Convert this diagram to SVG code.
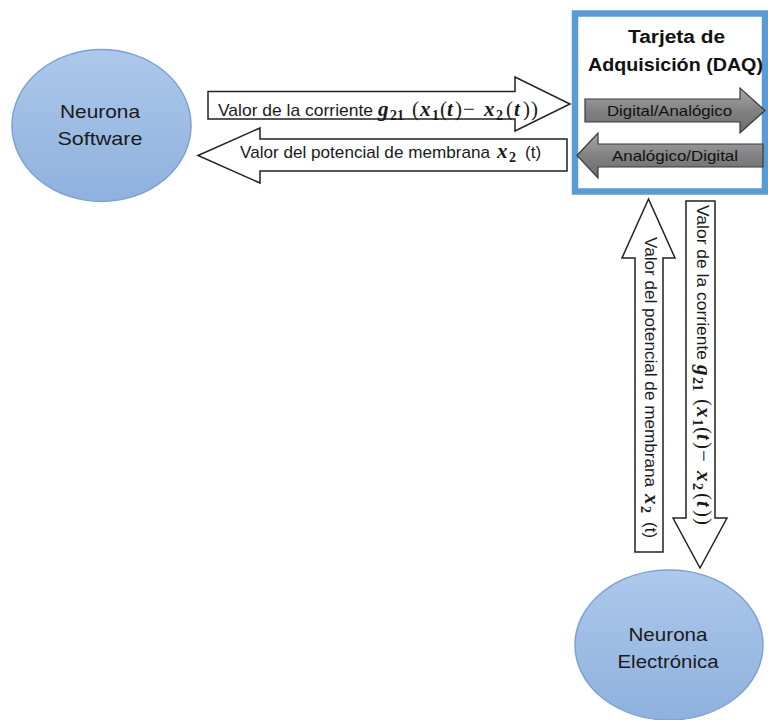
<svg xmlns="http://www.w3.org/2000/svg" width="768" height="720" viewBox="0 0 768 720">
<defs>
<linearGradient id="gBlue" x1="0" y1="0" x2="0" y2="1">
<stop offset="0" stop-color="#adc8ea"/>
<stop offset="1" stop-color="#8fb1de"/>
</linearGradient>
<linearGradient id="gGray" x1="0" y1="0" x2="0" y2="1">
<stop offset="0" stop-color="#a8a8a8"/>
<stop offset="0.5" stop-color="#828282"/>
<stop offset="1" stop-color="#6c6c6c"/>
</linearGradient>
<style>
.node{fill:url(#gBlue);stroke:#7ca1d4;stroke-width:1.5}
.nl{font-family:"Liberation Sans",Arial,sans-serif;font-size:19px;fill:#1a1a1a;text-anchor:middle}
.wa{fill:#ffffff;stroke:#222;stroke-width:1.5;stroke-linejoin:miter}
.ga{fill:url(#gGray);stroke:#3a3a3a;stroke-width:1.2}
.lbl{font-family:"Liberation Sans",Arial,sans-serif;font-size:17px;fill:#1a1a1a}
.gl{font-family:"Liberation Sans",Arial,sans-serif;font-size:15px;fill:#111}
.ttl{font-family:"Liberation Sans",Arial,sans-serif;font-size:18px;font-weight:bold;fill:#111;text-anchor:middle}
.m{font-family:"Liberation Serif","Times New Roman",serif;font-size:21px;fill:#1a1a1a}
.bi{font-weight:bold;font-style:italic}
.sb{font-weight:bold;font-size:14px}
</style>
</defs>
<rect width="768" height="720" fill="#ffffff"/>

<g id="neurona-software">
<ellipse class="node" cx="101.5" cy="125.5" rx="89.5" ry="76"/>
<text class="nl" x="100" y="118" textLength="80" lengthAdjust="spacingAndGlyphs">Neurona</text>
<text class="nl" x="100" y="145" textLength="85" lengthAdjust="spacingAndGlyphs">Software</text>
</g>

<g id="neurona-electronica">
<ellipse class="node" cx="669" cy="645" rx="94" ry="75"/>
<text class="nl" x="668" y="641" textLength="79" lengthAdjust="spacingAndGlyphs">Neurona</text>
<text class="nl" x="668" y="668" textLength="101" lengthAdjust="spacingAndGlyphs">Electrónica</text>
</g>

<g id="daq">
<rect x="575" y="13.5" width="190" height="178" fill="#ffffff" stroke="#5b9bd5" stroke-width="6.5"/>
<text class="ttl" x="676.5" y="43" textLength="97" lengthAdjust="spacingAndGlyphs">Tarjeta de</text>
<text class="ttl" x="675.5" y="71" textLength="175" lengthAdjust="spacingAndGlyphs">Adquisición (DAQ)</text>
<polygon class="ga" points="585,99 740,99 740,88 765,110.5 740,133 740,122 585,122"/>
<text class="gl" x="607" y="116" textLength="125" lengthAdjust="spacingAndGlyphs">Digital/Analógico</text>
<polygon class="ga" points="577,155.5 598,133 598,144 763,144 763,167 598,167 598,178"/>
<text class="gl" x="612" y="161" textLength="126" lengthAdjust="spacingAndGlyphs">Analógico/Digital</text>
</g>

<g id="connectors">
<polygon class="wa" points="208,91.5 515,91.5 515,77 570,104 515,131 515,119 208,119"/>
<polygon class="wa" points="198,155.5 260,128 260,139 567,139 567,171 260,171 260,183"/>
<polygon class="wa" points="648.5,199 675,258 663,258 663,552 635,552 635,258 622,258"/>
<polygon class="wa" points="686,201 715,201 715,518 727,518 700,568 673,518 686,518"/>

<g transform="translate(218,116)">
<text class="lbl" x="0" y="0" textLength="155" lengthAdjust="spacingAndGlyphs">Valor de la corriente</text>
<text class="m" y="0"><tspan x="160" class="bi">g</tspan><tspan x="172" dy="4" class="sb">21</tspan><tspan x="194" dy="-4">(</tspan><tspan x="202" class="bi">x</tspan><tspan x="214" dy="4" class="sb">1</tspan><tspan x="222" dy="-4">(</tspan><tspan x="229" class="bi">t</tspan><tspan x="237">)</tspan><tspan x="245">−</tspan><tspan x="266" class="bi">x</tspan><tspan x="278" dy="4" class="sb">2</tspan><tspan x="288" dy="-4">(</tspan><tspan x="296" class="bi">t</tspan><tspan x="305">)</tspan><tspan x="313">)</tspan></text>
</g>

<g transform="translate(240,158)">
<text class="lbl" x="0" y="0" textLength="250" lengthAdjust="spacingAndGlyphs">Valor del potencial de membrana</text>
<text class="m" y="0"><tspan x="257" class="bi">x</tspan><tspan x="269" dy="4" class="sb">2</tspan></text>
<text class="lbl" x="285" y="0">(t)</text>
</g>

<g transform="translate(697,205) rotate(90)">
<text class="lbl" x="0" y="0" textLength="155" lengthAdjust="spacingAndGlyphs">Valor de la corriente</text>
<text class="m" y="0"><tspan x="160" class="bi">g</tspan><tspan x="172" dy="4" class="sb">21</tspan><tspan x="194" dy="-4">(</tspan><tspan x="202" class="bi">x</tspan><tspan x="214" dy="4" class="sb">1</tspan><tspan x="222" dy="-4">(</tspan><tspan x="229" class="bi">t</tspan><tspan x="237">)</tspan><tspan x="245">−</tspan><tspan x="266" class="bi">x</tspan><tspan x="278" dy="4" class="sb">2</tspan><tspan x="288" dy="-4">(</tspan><tspan x="296" class="bi">t</tspan><tspan x="305">)</tspan><tspan x="313">)</tspan></text>
</g>

<g transform="translate(645,237) rotate(90)">
<text class="lbl" x="0" y="0" textLength="250" lengthAdjust="spacingAndGlyphs">Valor del potencial de membrana</text>
<text class="m" y="0"><tspan x="257" class="bi">x</tspan><tspan x="269" dy="4" class="sb">2</tspan></text>
<text class="lbl" x="285" y="0">(t)</text>
</g>
</g>
</svg>
